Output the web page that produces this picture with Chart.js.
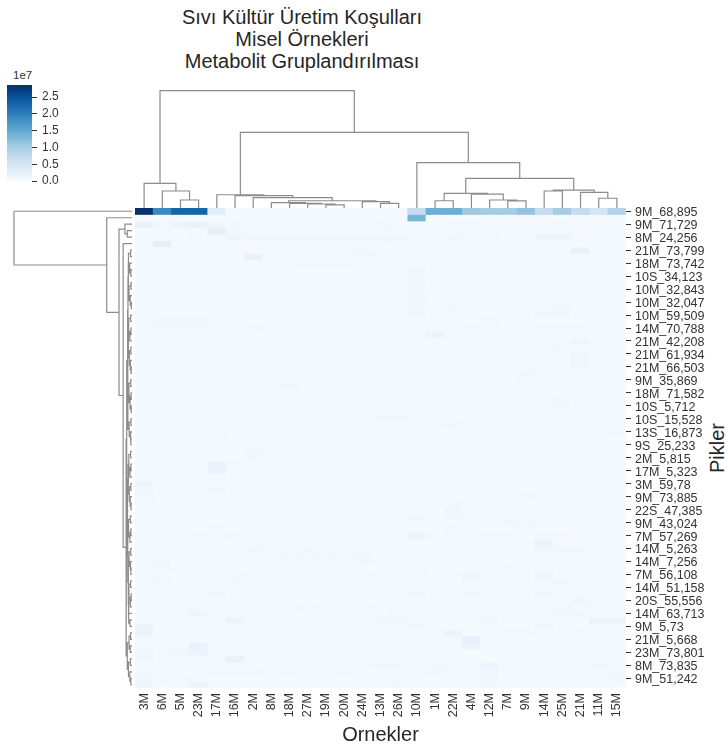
<!DOCTYPE html>
<html><head><meta charset="utf-8">
<script src="https://cdn.jsdelivr.net/npm/chart.js@4.4.0/dist/chart.umd.min.js"></script>
<style>
html,body{margin:0;padding:0;background:#fff;}
#wrap{position:relative;width:728px;height:749px;overflow:hidden;font-family:'Liberation Sans',Arial,sans-serif;color:#262626;}
canvas{position:absolute;}
.txt{position:absolute;white-space:nowrap;}
</style></head><body>
<div id="wrap">
<div class="txt" style="left:0;top:6px;width:604px;text-align:center;font-size:20px;line-height:22px;">Sıvı Kültür Üretim Koşulları<br>Misel Örnekleri<br>Metabolit Gruplandırılması</div>
<div class="txt" style="left:13px;top:69px;font-size:11.5px;color:#333;">1e7</div>
<div class="txt" style="left:717px;top:448px;font-size:20px;transform:translate(-50%,-50%) rotate(-90deg);">Pikler</div>
<canvas id="heat" width="728" height="749" style="left:0;top:0;width:728px;height:749px"></canvas>
<canvas id="cdend" width="491" height="120" style="left:135px;top:88px;width:491px;height:120px"></canvas>
<canvas id="rdend" width="122" height="480" style="left:10px;top:208px;width:122px;height:480px"></canvas>
<canvas id="cbar" width="80" height="125" style="left:0;top:70px;width:80px;height:125px"></canvas>
</div>
<script>
// ---- DATA ----
const columns = ['3M','6M','5M','23M','17M','16M','2M','8M','18M','27M','19M','20M','24M','13M','26M','10M','1M','22M','4M','12M','7M','9M','14M','25M','21M','11M','15M'];
// labels shown on every other row (74 rows in total)
const rowTickLabels = ['9M_68,895','9M_71,729','8M_24,256','21M_73,799','18M_73,742','10S_34,123','10M_32,843','10M_32,047','10M_59,509','14M_70,788','21M_42,208','21M_61,934','21M_66,503','9M_35,869','18M_71,582','10S_5,712','10S_15,528','13S_16,873','9S_25,233','2M_5,815','17M_5,323','3M_59,78','9M_73,885','22S_47,385','9M_43,024','7M_57,269','14M_5,263','14M_7,256','7M_56,108','14M_51,158','20S_55,556','14M_63,713','9M_5,73','21M_5,668','23M_73,801','8M_73,835','9M_51,242'];
const colorbarTicks = [0, 0.5, 1.0, 1.5, 2.0, 2.5];
// heat values, in units of 1e7 (rows top -> bottom, columns as above)
const values = [
[2.86,1.86,2.29,2.29,.29, .05,.04,.04,.04,.04, .04,.04,.04,.04,.04, .72,1.43,1.43,1.07,1.00, 1.00,1.15,.72,1.00,.72, .50,.86],
[.04,.04,.04,.04,.04, .04,.04,.04,.04,.04, .04,.04,.04,.04,.04, 1.35,.04,.04,.04,.04, .04,.04,.04,.04,.04, .04,.04],
[.20,.10,.14,.20,.12, .06,.05,.04,.04,.04, .04,.04,.04,.06,.04, .04,.04,.06,.06,.05, .05,.05,.05,.06,.04, .04,.05],
[.04,.04,.04,.04,.25, .08,.04,.04,.04,.04, .04,.04,.04,.04,.04, .04,.04,.04,.04,.04, .04,.04,.04,.04,.04, .04,.04],
[.04,.05,.05,.06,.04, .12,.10,.08,.08,.08, .08,.08,.08,.08,.08, .05,.05,.10,.06,.06, .05,.05,.14,.14,.05, .05,.05],
[.04,.25,.04,.04,.04, .04,.04,.04,.04,.04, .04,.04,.04,.04,.04, .04,.04,.04,.04,.04, .04,.04,.04,.04,.04, .04,.04],
[.04,.04,.04,.04,.04, .04,.04,.04,.04,.04, .04,.04,.10,.04,.04, .04,.04,.04,.04,.04, .04,.04,.04,.04,.20, .04,.04],
[.04,.04,.04,.04,.04, .04,.20,.04,.04,.04, .04,.04,.08,.08,.04, .04,.04,.04,.04,.04, .04,.04,.04,.04,.04, .04,.04],
[.04,.04,.04,.04,.04, .04,.04,.04,.10,.06, .06,.06,.04,.04,.04, .04,.04,.04,.04,.04, .04,.04,.04,.04,.04, .04,.04],
[.04,.04,.04,.04,.04, .04,.04,.04,.04,.04, .04,.04,.04,.04,.04, .08,.04,.04,.04,.04, .04,.04,.04,.04,.04, .04,.04],
[.04,.04,.04,.04,.04, .04,.04,.04,.04,.04, .04,.04,.04,.04,.04, .10,.04,.04,.04,.04, .04,.04,.04,.04,.04, .04,.04],
[.04,.04,.04,.04,.04, .04,.04,.04,.04,.04, .04,.04,.04,.04,.04, .08,.04,.04,.04,.04, .04,.04,.04,.04,.04, .04,.04],
[.04,.04,.04,.04,.04, .04,.04,.04,.04,.04, .04,.04,.04,.04,.04, .10,.04,.04,.04,.04, .04,.04,.04,.04,.04, .04,.04],
[.04,.04,.04,.04,.04, .04,.04,.04,.04,.04, .04,.04,.04,.04,.04, .06,.04,.04,.04,.04, .04,.04,.04,.04,.04, .04,.04],
[.04,.04,.04,.04,.04, .04,.04,.04,.04,.04, .04,.04,.04,.04,.04, .06,.04,.04,.04,.04, .04,.04,.04,.04,.04, .04,.04],
[.04,.04,.04,.04,.04, .04,.04,.04,.04,.04, .04,.04,.04,.04,.04, .10,.04,.07,.04,.04, .04,.04,.04,.06,.04, .04,.04],
[.04,.04,.04,.04,.04, .04,.04,.04,.04,.04, .04,.04,.04,.04,.04, .08,.04,.04,.04,.04, .04,.04,.08,.08,.04, .04,.04],
[.04,.07,.07,.07,.04, .04,.04,.04,.04,.04, .04,.04,.04,.04,.04, .04,.04,.04,.04,.06, .04,.04,.05,.05,.05, .04,.04],
[.04,.06,.06,.06,.05, .04,.06,.04,.04,.04, .04,.04,.04,.04,.04, .04,.04,.04,.06,.04, .04,.04,.06,.06,.06, .04,.04],
[.04,.04,.04,.04,.04, .04,.04,.04,.04,.04, .04,.04,.04,.04,.04, .04,.14,.04,.04,.04, .04,.04,.04,.04,.04, .04,.04],
[.04,.04,.04,.04,.04, .04,.04,.04,.04,.04, .04,.04,.04,.04,.04, .04,.04,.04,.04,.04, .04,.04,.04,.04,.12, .04,.04],
[.04,.04,.04,.04,.04, .04,.04,.04,.04,.04, .04,.04,.04,.04,.04, .04,.04,.04,.04,.04, .04,.04,.04,.07,.04, .04,.04],
[.04,.04,.04,.04,.04, .04,.04,.04,.04,.04, .04,.04,.04,.04,.04, .04,.04,.04,.04,.04, .04,.04,.04,.04,.10, .04,.04],
[.04,.04,.04,.04,.04, .04,.04,.04,.04,.04, .04,.04,.04,.04,.04, .04,.04,.04,.04,.04, .04,.04,.04,.04,.08, .04,.04],
[.04,.04,.04,.04,.04, .04,.04,.04,.04,.04, .04,.04,.04,.04,.04, .04,.04,.04,.04,.04, .04,.04,.04,.04,.10, .04,.04],
[.04,.04,.04,.04,.04, .04,.04,.04,.04,.04, .04,.04,.04,.04,.04, .04,.04,.04,.04,.04, .04,.08,.04,.04,.04, .04,.04],
[.04,.04,.04,.04,.04, .04,.04,.04,.04,.04, .04,.04,.04,.04,.04, .04,.04,.04,.04,.04, .04,.06,.04,.04,.04, .04,.04],
[.04,.04,.04,.04,.04, .04,.04,.04,.12,.04, .04,.04,.04,.04,.04, .04,.04,.04,.04,.04, .04,.04,.04,.04,.04, .04,.04],
[.04,.04,.04,.04,.04, .04,.04,.04,.05,.05, .04,.04,.04,.04,.04, .04,.04,.04,.04,.04, .04,.04,.04,.04,.04, .04,.04],
[.04,.04,.04,.04,.04, .04,.04,.04,.04,.04, .04,.04,.04,.04,.04, .04,.04,.04,.04,.04, .04,.04,.04,.06,.04, .04,.04],
[.04,.04,.04,.04,.04, .04,.04,.04,.04,.04, .04,.04,.04,.04,.04, .04,.04,.04,.04,.04, .04,.04,.04,.08,.04, .04,.04],
[.04,.04,.04,.04,.04, .04,.04,.04,.04,.04, .04,.04,.04,.04,.04, .04,.04,.04,.04,.04, .04,.04,.04,.05,.04, .04,.04],
[.04,.04,.04,.04,.04, .04,.04,.04,.04,.04, .04,.04,.04,.08,.08, .04,.04,.04,.04,.04, .04,.04,.04,.04,.04, .04,.04],
[.04,.04,.04,.04,.04, .04,.04,.04,.04,.04, .04,.04,.04,.04,.04, .04,.04,.10,.04,.04, .04,.04,.04,.04,.04, .04,.04],
[.04,.04,.04,.04,.04, .04,.04,.04,.04,.04, .04,.04,.04,.04,.04, .04,.04,.04,.04,.04, .04,.04,.04,.04,.04, .04,.06],
[.04,.04,.04,.04,.10, .04,.04,.04,.04,.04, .04,.04,.04,.04,.04, .04,.04,.04,.04,.04, .04,.04,.04,.04,.04, .04,.04],
[.06,.04,.07,.04,.04, .04,.04,.04,.04,.04, .04,.04,.04,.04,.04, .04,.04,.04,.04,.04, .04,.04,.04,.04,.04, .04,.04],
[.04,.04,.04,.04,.04, .04,.08,.04,.04,.04, .04,.04,.04,.04,.04, .04,.04,.04,.04,.04, .04,.04,.04,.04,.04, .04,.04],
[.04,.04,.07,.04,.04, .04,.08,.04,.04,.04, .04,.04,.04,.04,.04, .04,.04,.04,.04,.04, .04,.04,.04,.04,.04, .04,.04],
[.04,.04,.04,.04,.20, .06,.04,.04,.04,.04, .04,.04,.04,.04,.04, .04,.04,.04,.05,.04, .04,.04,.05,.04,.04, .04,.04],
[.04,.04,.04,.04,.18, .04,.04,.04,.04,.04, .04,.04,.04,.04,.04, .04,.04,.04,.04,.04, .04,.04,.04,.04,.04, .04,.04],
[.04,.04,.04,.04,.06, .04,.04,.04,.04,.04, .04,.04,.04,.04,.04, .04,.04,.04,.04,.04, .04,.04,.04,.04,.04, .04,.04],
[.14,.04,.04,.04,.04, .04,.04,.04,.04,.04, .04,.04,.04,.04,.04, .04,.04,.04,.04,.04, .04,.04,.04,.04,.04, .04,.04],
[.10,.04,.04,.04,.08, .04,.04,.04,.04,.04, .04,.04,.04,.04,.04, .04,.04,.04,.04,.04, .04,.04,.04,.04,.04, .04,.04],
[.10,.04,.04,.04,.04, .04,.04,.04,.04,.04, .04,.04,.04,.04,.04, .04,.04,.04,.04,.04, .04,.06,.04,.04,.04, .04,.04],
[.04,.04,.04,.04,.04, .04,.04,.04,.04,.04, .04,.04,.04,.04,.04, .04,.04,.06,.04,.04, .04,.05,.04,.04,.04, .04,.04],
[.04,.04,.04,.04,.04, .04,.04,.04,.04,.04, .04,.04,.04,.04,.04, .04,.04,.12,.04,.04, .04,.04,.04,.04,.04, .04,.04],
[.04,.04,.04,.04,.04, .04,.04,.04,.04,.04, .04,.04,.04,.04,.04, .10,.04,.08,.04,.04, .04,.04,.04,.04,.04, .04,.04],
[.04,.04,.04,.04,.04, .04,.04,.04,.04,.04, .04,.04,.04,.04,.04, .04,.04,.04,.04,.04, .10,.06,.04,.04,.04, .04,.04],
[.05,.04,.04,.04,.07, .04,.04,.10,.04,.04, .04,.04,.04,.04,.04, .04,.04,.07,.04,.04, .04,.04,.04,.04,.04, .04,.04],
[.04,.05,.04,.06,.04, .06,.04,.04,.04,.04, .04,.04,.04,.04,.04, .16,.04,.04,.04,.06, .07,.04,.06,.06,.04, .04,.05],
[.04,.04,.04,.04,.04, .04,.04,.04,.04,.04, .04,.04,.04,.04,.04, .04,.04,.04,.04,.04, .04,.04,.18,.04,.04, .04,.04],
[.04,.04,.04,.04,.04, .04,.08,.04,.04,.08, .04,.04,.04,.04,.04, .04,.04,.04,.04,.04, .04,.04,.12,.08,.08, .04,.04],
[.04,.04,.04,.04,.06, .04,.04,.04,.06,.06, .06,.04,.10,.04,.04, .04,.04,.04,.04,.04, .04,.04,.04,.04,.04, .04,.04],
[.04,.10,.04,.04,.04, .04,.04,.04,.04,.04, .04,.04,.08,.04,.04, .04,.04,.04,.04,.04, .04,.04,.04,.04,.04, .04,.04],
[.04,.10,.04,.04,.04, .04,.04,.04,.05,.04, .04,.04,.04,.04,.04, .04,.04,.04,.04,.04, .06,.04,.08,.04,.04, .04,.04],
[.04,.04,.04,.04,.04, .10,.04,.04,.04,.04, .04,.04,.10,.04,.04, .08,.04,.04,.12,.04, .04,.04,.12,.04,.04, .04,.04],
[.04,.06,.04,.04,.04, .06,.04,.04,.04,.04, .04,.04,.04,.04,.04, .04,.04,.04,.10,.04, .04,.04,.10,.10,.04, .04,.04],
[.04,.04,.04,.04,.04, .04,.04,.04,.04,.04, .04,.04,.04,.04,.04, .04,.04,.04,.05,.04, .04,.04,.05,.04,.04, .04,.04],
[.06,.04,.04,.04,.10, .04,.04,.04,.04,.04, .04,.04,.04,.04,.04, .08,.04,.04,.12,.04, .04,.04,.10,.04,.06, .04,.04],
[.04,.04,.04,.04,.04, .04,.04,.04,.04,.04, .04,.04,.04,.04,.04, .04,.04,.04,.04,.04, .04,.04,.04,.04,.12, .04,.04],
[.04,.04,.04,.08,.04, .04,.04,.04,.04,.08, .04,.04,.08,.04,.08, .04,.04,.04,.04,.04, .04,.04,.04,.10,.04, .04,.04],
[.04,.04,.07,.12,.04, .04,.04,.04,.04,.04, .04,.04,.04,.04,.04, .04,.04,.04,.04,.04, .04,.04,.05,.08,.08, .04,.04],
[.04,.04,.04,.04,.04, .14,.04,.04,.04,.04, .04,.04,.04,.10,.10, .04,.04,.04,.04,.10, .04,.04,.04,.04,.04, .16,.16],
[.18,.04,.04,.04,.04, .04,.04,.04,.04,.04, .04,.04,.04,.04,.04, .10,.04,.04,.04,.04, .04,.04,.08,.04,.04, .04,.04],
[.14,.04,.04,.04,.04, .04,.04,.04,.04,.04, .04,.04,.04,.04,.04, .04,.04,.14,.04,.04, .06,.06,.04,.04,.06, .04,.04],
[.04,.04,.04,.04,.04, .04,.04,.04,.04,.04, .04,.04,.04,.04,.04, .04,.04,.04,.24,.04, .04,.04,.04,.04,.04, .04,.04],
[.04,.04,.04,.20,.04, .04,.04,.04,.04,.04, .04,.04,.04,.04,.04, .04,.04,.04,.14,.04, .04,.04,.04,.04,.04, .04,.04],
[.12,.04,.10,.14,.04, .04,.04,.04,.04,.04, .04,.04,.04,.04,.04, .04,.04,.04,.04,.04, .04,.04,.04,.04,.04, .04,.04],
[.08,.04,.04,.04,.04, .20,.04,.04,.04,.04, .04,.04,.04,.04,.04, .04,.04,.04,.04,.04, .04,.04,.04,.04,.04, .04,.04],
[.04,.04,.04,.04,.04, .04,.04,.04,.04,.04, .04,.04,.04,.08,.08, .04,.06,.06,.04,.14, .04,.04,.04,.04,.04, .08,.04],
[.07,.04,.04,.04,.06, .06,.06,.04,.06,.04, .04,.06,.04,.04,.04, .04,.07,.04,.04,.10, .04,.04,.04,.04,.04, .04,.08],
[.12,.07,.08,.04,.04, .04,.04,.04,.04,.04, .04,.04,.04,.04,.08, .04,.04,.04,.04,.08, .04,.04,.04,.04,.04, .04,.06],
[.12,.04,.04,.14,.04, .04,.04,.04,.04,.04, .04,.04,.04,.04,.06, .04,.04,.04,.04,.06, .04,.04,.04,.04,.04, .04,.04]
];
// column dendrogram: [height, left, right]; leaves = column index in display order
const colTree =
[1.0,
  [0.21, 0, [0.145, 1, [0.068, 2, 3]]],
  [0.645,
    [0.113, 4, [0.105, 5, [0.088, 6, [0.062,
        [0.045, 7, [0.04, 8, [0.034, 9, [0.026, 10, 11]]]],
        [0.054, 12, [0.04, 13, 14]]]]]],
    [0.386, 15, [0.253,
        [0.125, [0.062, 16, 17], [0.119, 18, [0.068, 19, [0.06, 20, 21]]]],
        [0.153, [0.145, 22, 23], [0.134, 24, [0.083, 25, 26]]]]]]];
// row dendrogram: leaves = row index in display order
const rowG1 = [0.03, [0.012, 6, 7], [0.02, 8, [0.01, 9, 10]]];
const rowG2 = [0.025, [0.008, 11, 12], [0.015, 13, [0.006, 14, 15]]];
const rowG3 = [0.028, [0.012, 16, 17], [0.018, [0.009, 18, 19], 20]];
const rowG4 = [0.022, [0.01, 21, 22], [0.014, 23, [0.007, 24, 25]]];
const rowG5 = [0.026, [0.011, 26, 27], [0.016, [0.008, 28, 29], [0.006, 30, 31]]];
const rowG6 = [0.024, [0.009, 32, 33], [0.013, 34, [0.01, 35, 36]]];
const rowG7 = [0.027, [0.012, 37, 38], [0.017, [0.009, 39, 40], 41]];
const rowG8 = [0.023, [0.01, 42, 43], [0.015, 44, [0.008, 45, 46]]];
const rowG9 = [0.029, [0.014, 47, 48], [0.018, [0.01, 49, 50], 51]];
const rowG10 = [0.025, [0.011, 52, 53], [0.016, 54, [0.009, 55, 56]]];
const rowG11 = [0.026, [0.012, 57, 58], [0.014, [0.007, 59, 60], 61]];
const rowG12 = [0.028, 62, [0.017, 63, 64]];
const rowBottom = [0.04, [0.025, [0.012, 65, 66], [0.015, 67, 68]], [0.03, [0.014, 69, 70], [0.018, 71, [0.01, 72, 73]]]];
const rowMain = [0.045,
  [0.038, [0.034, [0.031, rowG1, rowG2], [0.032, rowG3, rowG4]], [0.035, rowG5, rowG6]],
  [0.04, [0.033, rowG7, rowG8], [0.036, rowG9, [0.032, rowG10, [0.03, rowG11, rowG12]]]]];
const rowTree = [1.0, 0, [0.214, 1, [0.11, [0.06, 2, [0.04, 3, 4]], [0.075, 5, [0.05, rowMain, rowBottom]]]]];

// ---- checks ----
values.forEach((r, i) => { if (r.length !== columns.length) throw new Error('row ' + i + ' has ' + r.length); });
if (values.length !== rowTickLabels.length * 2) throw new Error('rows ' + values.length);

// ---- helpers ----
const BLUES = ['#f7fbff','#deebf7','#c6dbef','#9ecae1','#6baed6','#4292c6','#2171b5','#08519c','#08306b'];
function hex2rgb(h){return [parseInt(h.slice(1,3),16),parseInt(h.slice(3,5),16),parseInt(h.slice(5,7),16)];}
const BL = BLUES.map(hex2rgb);
function blues(t){
  t = Math.max(0, Math.min(1, t));
  const s = t * (BL.length - 1), i = Math.min(Math.floor(s), BL.length - 2), f = s - i;
  const c = BL[i].map((v, k) => Math.round(v + (BL[i+1][k] - v) * f));
  return 'rgb(' + c.join(',') + ')';
}
const vmax = Math.max(...values.flat());
function treeSegments(node, out){
  if (typeof node === 'number') return {p: node + 0.5, h: 0};
  const [h, a, b] = node;
  const A = treeSegments(a, out), B = treeSegments(b, out);
  out.push([A.p, A.h], [A.p, h], [B.p, h], [B.p, B.h], null);
  return {p: (A.p + B.p) / 2, h};
}

Chart.defaults.font.family = "'Liberation Sans', Arial, sans-serif";
Chart.defaults.color = '#333';
const common = {responsive: false, animation: false, devicePixelRatio: 1,
  plugins: {legend: {display: false}, tooltip: {enabled: false}, title: {display: false}}, events: []};

// ---- heatmap ----
new Chart(document.getElementById('heat'), {
  type: 'bar',
  data: {
    labels: columns,
    datasets: values.map((row, r) => ({
      data: row.map((v, c) => ({x: columns[c], y: [r, r + 1], v})),
      backgroundColor: ctx => blues((ctx.raw ? ctx.raw.v : 0) / vmax),
      borderWidth: 0, barPercentage: 1, categoryPercentage: 1, grouped: false
    }))
  },
  options: Object.assign({}, common, {
    layout: {padding: {left: 135, top: 208, right: 0, bottom: 0}},
    scales: {
      x: {type: 'category', position: 'bottom', offset: true,
        grid: {display: false, drawTicks: false}, border: {display: false},
        ticks: {minRotation: 90, maxRotation: 90, autoSkip: false, padding: 5, color: '#333', font: {size: 12.5}},
        title: {display: true, text: 'Ornekler', color: '#262626', font: {size: 20}, padding: {top: 0, bottom: 2}},
        afterFit: s => { s.height = 61; }
      },
      y: {type: 'linear', position: 'right', reverse: true, min: 0, max: values.length,
        afterBuildTicks: s => { s.ticks = rowTickLabels.map((l, i) => ({value: 2 * i + 0.5})); },
        ticks: {autoSkip: false, padding: 4, labelOffset: 1.5, color: '#333', font: {size: 12.5}, callback: (v, i) => rowTickLabels[i]},
        grid: {drawOnChartArea: false, drawTicks: true, tickLength: 5, tickColor: '#333', tickWidth: 1},
        border: {display: false},
        afterFit: s => { s.width = 102; }
      }
    }
  })
});

// ---- column dendrogram ----
const colSegs = []; treeSegments(colTree, colSegs);
new Chart(document.getElementById('cdend'), {
  type: 'scatter',
  data: {datasets: [{
    data: colSegs.map(s => s ? {x: s[0], y: s[1]} : {x: NaN, y: null}),
    showLine: true, pointRadius: 0, borderColor: '#8c8c8c', borderWidth: 1.2, spanGaps: false, clip: false
  }]},
  options: Object.assign({}, common, {
    layout: {padding: 0},
    scales: {x: {type: 'linear', display: false, min: 0, max: columns.length},
             y: {type: 'linear', display: false, min: 0, max: 1.023}}
  })
});

// ---- row dendrogram ----
const rowSegs = []; treeSegments(rowTree, rowSegs);
new Chart(document.getElementById('rdend'), {
  type: 'scatter',
  data: {datasets: [{
    data: rowSegs.map(s => s ? {x: s[1], y: s[0]} : {x: NaN, y: null}),
    showLine: true, pointRadius: 0, borderColor: '#8c8c8c', borderWidth: 1.2, spanGaps: false, clip: false
  }]},
  options: Object.assign({}, common, {
    layout: {padding: 0},
    scales: {x: {type: 'linear', display: false, reverse: true, min: 0, max: 1.034},
             y: {type: 'linear', display: false, reverse: true, min: 0, max: values.length}}
  })
});

// ---- colorbar ----
new Chart(document.getElementById('cbar'), {
  type: 'bar',
  data: {labels: [''], datasets: [{
    data: [[0, vmax]], borderWidth: 0, barPercentage: 1, categoryPercentage: 1,
    backgroundColor: ctx => {
      const ch = ctx.chart, ys = ch.scales.y;
      if (!ch.chartArea || !ys) return BLUES[4];
      const g = ch.ctx.createLinearGradient(0, ys.getPixelForValue(0), 0, ys.getPixelForValue(vmax));
      BLUES.forEach((c, i) => g.addColorStop(i / (BLUES.length - 1), c));
      return g;
    }
  }]},
  options: Object.assign({}, common, {
    layout: {padding: {left: 7, top: 15, right: 0, bottom: 14}},
    scales: {
      x: {display: false},
      y: {position: 'right', min: 0, max: vmax,
        afterBuildTicks: s => { s.ticks = colorbarTicks.map(v => ({value: v})); },
        ticks: {padding: 5, color: '#333', font: {size: 12}, callback: v => v.toFixed(1)},
        grid: {drawOnChartArea: false, tickLength: 5, tickColor: '#333'},
        border: {display: false},
        afterFit: s => { s.width = 48; }
      }
    }
  })
});
</script>
</body></html>
